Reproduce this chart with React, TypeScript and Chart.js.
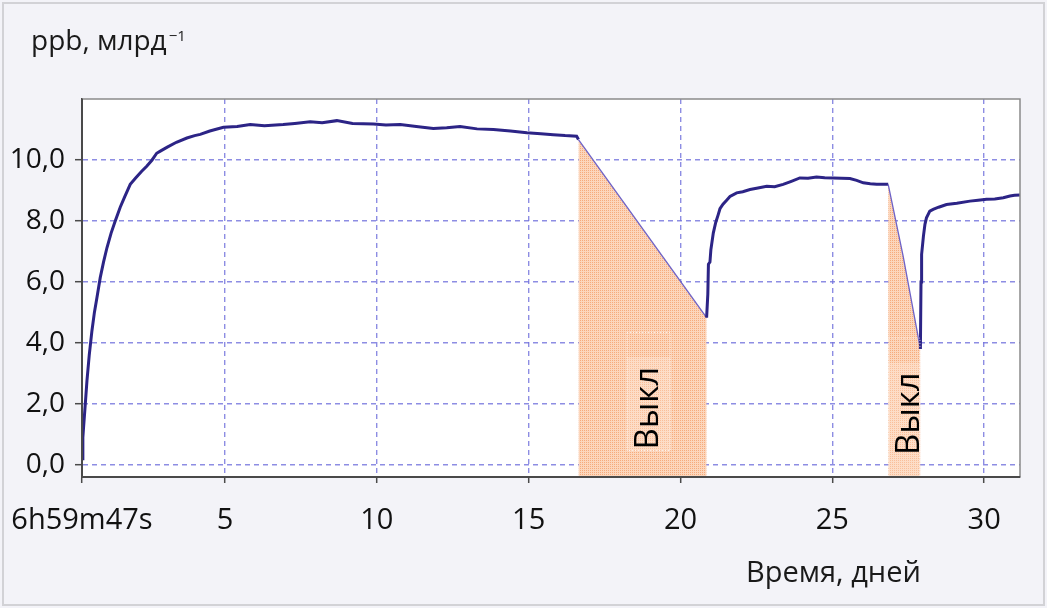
import { useEffect, useRef } from "react";
import { Chart, registerables } from "chart.js";

Chart.register(...registerables);

// ---------- data ----------
const xTickValues = [0.2915, 5, 10, 15, 20, 25, 30];
const xTickLabels = ["6h59m47s", "5", "10", "15", "20", "25", "30"];
const yTickValues = [0, 2, 4, 6, 8, 10];
const yTickLabels = ["0,0", "2,0", "4,0", "6,0", "8,0", "10,0"];

const days = [
  0.2915, 0.32, 0.343, 0.4, 0.455, 0.53, 0.619, 0.7, 0.784, 0.892, 1.0, 1.113, 1.25, 1.386, 1.55, 1.7, 1.88,
  2.05, 2.25, 2.43, 2.6, 2.75, 2.87, 3.1, 3.4, 3.746, 4.0, 4.184, 4.5, 4.95, 5.4, 5.83, 6.3, 6.916, 7.3,
  7.805, 8.2, 8.684, 9.2, 9.888, 10.3, 10.77, 11.3, 11.86, 12.3, 12.74, 13.3, 13.84, 14.4, 14.94, 15.4,
  15.81, 16.2, 16.58, 16.64,
  20.86, 20.9, 20.92, 20.97, 21.0, 21.08, 21.16, 21.24, 21.3, 21.4, 21.52, 21.63, 21.85, 22.05, 22.29,
  22.55, 22.84, 23.1, 23.38, 23.65, 23.93, 24.2, 24.48, 24.75, 25.03, 25.3, 25.58, 25.8, 26.02, 26.25,
  26.46, 26.65, 26.84, 27.33,
  27.9, 27.92, 27.94, 28.0, 28.05, 28.1, 28.21, 28.32, 28.5, 28.76, 29.1, 29.53, 29.8, 30.08, 30.35,
  30.63, 30.85, 31.0, 31.18,
];
const ppb = [
  0.2, 0.9, 1.23, 2.0, 2.76, 3.6, 4.4, 5.0, 5.49, 6.14, 6.65, 7.12, 7.6, 8.0, 8.45, 8.8, 9.2,
  9.4, 9.62, 9.8, 10.0, 10.22, 10.29, 10.42, 10.58, 10.72, 10.8, 10.84, 10.95, 11.07, 11.1, 11.16, 11.12,
  11.16, 11.2, 11.25, 11.22, 11.29, 11.2, 11.18, 11.15, 11.16, 11.1, 11.03, 11.06, 11.1, 11.02, 11.0,
  10.95, 10.89, 10.86, 10.83, 10.8, 10.78, 10.67,
  4.83, 5.6, 6.58, 6.65, 7.05, 7.6, 7.95, 8.2, 8.4, 8.55, 8.68, 8.8, 8.92, 8.96, 9.03, 9.08, 9.14,
  9.12, 9.2, 9.3, 9.41, 9.4, 9.44, 9.42, 9.41, 9.4, 9.39, 9.33, 9.25, 9.22, 9.2, 9.2, 9.2, 6.85,
  3.8, 6.0, 6.9, 7.5, 7.89, 8.1, 8.32, 8.38, 8.45, 8.54, 8.58, 8.65, 8.68, 8.71, 8.72, 8.76, 8.82,
  8.84, 8.85,
];

const offStart = [16.64, 26.84];
const offEnd = [20.86, 27.9];
const offLabel = "Выкл";
const offLabelX = [18.95, 27.55];
const offLabelY = [1.86, 1.68];

const yTitle = "ppb, млрд";
const yTitleSup = "−1";
const xTitle = "Время, дней";

const X_MIN = 0.2915;
const X_MAX = 31.18;
const Y_MIN = -0.4;
const Y_MAX = 12;

const FONT = "'Open Sans', 'Noto Sans', sans-serif";

function inOff(a: number, b: number) {
  return offStart.some((s, i) => a >= s - 1e-9 && b <= offEnd[i] + 1e-9);
}

export default function App() {
  const ref = useRef<HTMLCanvasElement | null>(null);

  useEffect(() => {
    document.body.style.margin = "0";
    const canvas = ref.current;
    if (!canvas) return;

    const pc = document.createElement("canvas");
    pc.width = 2;
    pc.height = 2;
    const pctx = pc.getContext("2d")!;
    pctx.fillStyle = "#f6ab7c";
    pctx.fillRect(0, 0, 2, 2);
    pctx.fillStyle = "#fcd6bc";
    pctx.fillRect(1, 0, 1, 2);
    pctx.fillRect(0, 1, 1, 1);
    const pattern = canvas.getContext("2d")!.createPattern(pc, "repeat");

    const mainData = days.map((d, i) => ({ x: d, y: ppb[i] }));
    const fillSets = offStart.map((s, k) => ({
      label: "off" + k,
      data: mainData.filter((p) => p.x >= s - 1e-9 && p.x <= offEnd[k] + 1e-9),
      fill: "start",
      backgroundColor: pattern || "#f9c6a2",
      borderWidth: 0,
      pointRadius: 0,
    }));

    const decor = {
      id: "decor",
      beforeDraw(chart: any) {
        const { ctx, chartArea: a, width, height } = chart;
        ctx.save();
        ctx.fillStyle = "#f3f3f8";
        ctx.fillRect(0, 0, width, height);
        ctx.strokeStyle = "#d2d2d6";
        ctx.lineWidth = 2;
        ctx.strokeRect(3, 3, width - 6, height - 6);
        ctx.fillStyle = "#ffffff";
        ctx.fillRect(a.left, a.top, a.right - a.left, a.bottom - a.top);
        ctx.restore();
      },
      afterDatasetsDraw(chart: any) {
        const { ctx, chartArea: a, scales } = chart;
        const xs = scales.x;
        const ys = scales.y;
        ctx.save();
        offLabelX.forEach((lx, i) => {
          const cx = xs.getPixelForValue(lx);
          const cy = ys.getPixelForValue(offLabelY[i]);
          const l = Math.max(cx - 22, xs.getPixelForValue(offStart[i]));
          const r = Math.min(cx + 22, xs.getPixelForValue(offEnd[i]));
          const top = cy - 51;
          const bot = i === 0 ? cy + 43 : a.bottom;
          ctx.fillStyle = "rgba(255,238,224,0.3)";
          ctx.fillRect(l, top, r - l, bot - top);
          ctx.setLineDash([1, 2]);
          ctx.strokeStyle = "rgba(255,255,255,0.85)";
          ctx.lineWidth = 1;
          ctx.strokeRect(l + 0.5, top - 24.5, r - l - 1, bot - top + 24);
          ctx.setLineDash([]);
          ctx.save();
          ctx.translate(cx, cy);
          ctx.rotate(-Math.PI / 2);
          ctx.fillStyle = "#000";
          ctx.font = `33px ${FONT}`;
          ctx.textAlign = "center";
          ctx.textBaseline = "middle";
          ctx.fillText(offLabel, 0, 0);
          ctx.restore();
        });
        ctx.strokeStyle = "#8a8a8a";
        ctx.lineWidth = 1.5;
        ctx.beginPath();
        ctx.moveTo(a.left, a.top);
        ctx.lineTo(a.right, a.top);
        ctx.lineTo(a.right, a.bottom);
        ctx.stroke();
        ctx.strokeStyle = "#4a4a4a";
        ctx.lineWidth = 2;
        ctx.beginPath();
        ctx.moveTo(a.left, a.top);
        ctx.lineTo(a.left, a.bottom);
        ctx.lineTo(a.right, a.bottom);
        ctx.stroke();
        ctx.restore();
      },
      afterDraw(chart: any) {
        const { ctx } = chart;
        ctx.save();
        ctx.fillStyle = "#1a1a1a";
        ctx.textBaseline = "alphabetic";
        ctx.textAlign = "left";
        ctx.font = `28px ${FONT}`;
        ctx.fillText(yTitle, 31, 50);
        const w = ctx.measureText(yTitle).width;
        ctx.font = `15px ${FONT}`;
        ctx.fillText(yTitleSup, 31 + w + 2, 41);
        ctx.font = `29px ${FONT}`;
        ctx.fillText(xTitle, 746, 582);
        ctx.restore();
      },
    };

    const chart = new Chart(canvas, {
      type: "line",
      data: {
        datasets: [
          {
            label: "ppb",
            data: mainData,
            borderColor: "#2c2486",
            borderWidth: 3,
            pointRadius: 0,
            fill: false,
            tension: 0,
            segment: {
              borderColor: (c: any) => (inOff(c.p0.parsed.x, c.p1.parsed.x) ? "#6d62c8" : undefined),
              borderWidth: (c: any) => (inOff(c.p0.parsed.x, c.p1.parsed.x) ? 1.3 : undefined),
            },
          } as any,
          ...(fillSets as any[]),
        ],
      },
      options: {
        responsive: false,
        animation: false,
        devicePixelRatio: 1,
        layout: { autoPadding: false, padding: { left: 0, right: 27, top: 99, bottom: 0 } },
        plugins: { legend: { display: false }, tooltip: { enabled: false }, title: { display: false } },
        scales: {
          x: {
            type: "linear",
            min: X_MIN,
            max: X_MAX,
            afterBuildTicks: (s: any) => {
              s.ticks = xTickValues.map((v) => ({ value: v }));
            },
            afterFit: (s: any) => {
              s.height = 131;
              s.paddingLeft = 0;
              s.paddingRight = 0;
            },
            ticks: {
              autoSkip: false,
              maxRotation: 0,
              padding: 20,
              color: "#111",
              font: { family: FONT, size: 29 },
              callback: (_v: any, i: number) => xTickLabels[i],
            },
            grid: {
              color: (c: any) => (c.index === 0 ? "rgba(0,0,0,0)" : "rgba(112,112,220,0.8)"),
              lineWidth: 1.4,
              tickColor: "#4a4a4a",
              tickLength: 6,
              tickWidth: 1.5,
            },
            border: { display: true, color: "#4a4a4a", width: 2, dash: [5, 4] },
          },
          y: {
            type: "linear",
            min: Y_MIN,
            max: Y_MAX,
            afterBuildTicks: (s: any) => {
              s.ticks = yTickValues.map((v) => ({ value: v }));
            },
            afterFit: (s: any) => {
              s.width = 82;
              s.paddingTop = 0;
              s.paddingBottom = 0;
            },
            ticks: {
              autoSkip: false,
              padding: 10,
              color: "#111",
              font: { family: FONT, size: 28 },
              callback: (_v: any, i: number) => yTickLabels[i],
            },
            grid: {
              color: "rgba(112,112,220,0.8)",
              lineWidth: 1.4,
              tickColor: "#4a4a4a",
              tickLength: 7,
              tickWidth: 1.5,
            },
            border: { display: true, color: "#4a4a4a", width: 2, dash: [5, 4] },
          },
        },
      } as any,
      plugins: [decor],
    });

    return () => chart.destroy();
  }, []);

  return (
    <div style={{ width: 1047, height: 608, position: "relative" }}>
      <canvas ref={ref} width={1047} height={608} style={{ display: "block", width: 1047, height: 608 }} />
    </div>
  );
}
